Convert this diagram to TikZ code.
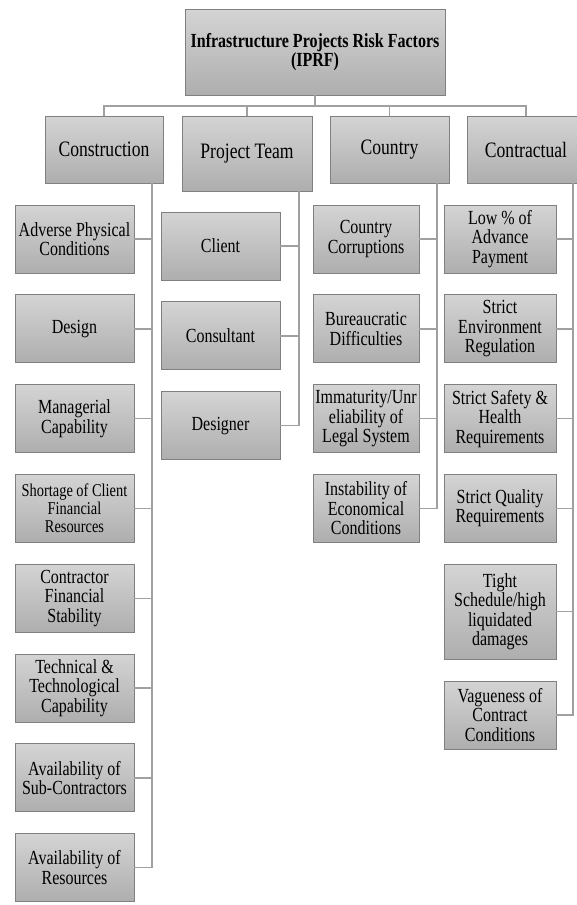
\documentclass[tikz,border=0pt]{standalone}
\usepackage{fontspec}
\setmainfont{Liberation Serif}[FakeStretch=0.8]
\usetikzlibrary{positioning}
\definecolor{boxtop}{RGB}{212,212,212}
\definecolor{boxbot}{RGB}{174,174,174}
\definecolor{boxline}{RGB}{128,128,128}
\definecolor{linkgray}{RGB}{160,160,160}

\begin{document}
\begin{tikzpicture}[x=1pt, y=-1pt, node distance=21pt,
    box/.style={draw=boxline, line width=0.8pt, top color=boxtop, bottom color=boxbot,
                align=center, inner sep=1pt, minimum height=68pt,
                font=\fontsize{20}{19.5}\selectfont},
    head/.style={box, minimum height=67pt, font=\fontsize{22}{22}\selectfont},
    link/.style={draw=linkgray, line width=1.4pt}]
  \useasboundingbox (0,0) rectangle (577,905);

  % top level
  \node[box, minimum width=260pt, minimum height=86pt] (iprf) at (315,52)
    {\textbf{Infrastructure Projects Risk Factors}\\\textbf{(IPRF)}};

  % categories
  \node[head, minimum width=118pt] (cons) at (104,149.5) {Construction};
  \node[head, minimum width=130pt, minimum height=75pt] (team) at (247,153.5) {Project Team};
  \node[head, minimum width=119pt] (ctry) at (389.5,149.5) {Country};
  \node[head, minimum width=118pt] (contr) at (526,149.5) {Contractual};

  % construction factors
  \node[box, minimum width=119pt] (adverse) at (74.5,239) {Adverse Physical\\Conditions};
  \node[box, minimum width=119pt] (design) [below=of adverse] {Design};
  \node[box, minimum width=119pt] (manage) [below=of design] {Managerial\\Capability};
  \node[box, minimum width=119pt, font=\fontsize{18}{18}\selectfont] (short) [below=of manage]
    {Shortage of Client\\Financial\\Resources};
  \node[box, minimum width=119pt] (stab) [below=of short] {Contractor\\Financial\\Stability};
  \node[box, minimum width=119pt] (tech) [below=of stab] {Technical \&\\Technological\\Capability};
  \node[box, minimum width=119pt] (subc) [below=of tech] {Availability of\\Sub-Contractors};
  \node[box, minimum width=119pt] (resrc) [below=of subc] {Availability of\\Resources};

  % project team factors
  \node[box, minimum width=119pt] (client) at (220.5,246) {Client};
  \node[box, minimum width=119pt] (consult) [below=of client] {Consultant};
  \node[box, minimum width=119pt] (designer) [below=of consult] {Designer};

  % country factors
  \node[box, minimum width=106pt] (corrupt) at (366,239) {Country\\Corruptions};
  \node[box, minimum width=106pt] (bureau) [below=of corrupt] {Bureaucratic\\Difficulties};
  \node[box, minimum width=106pt] (legal) [below=of bureau] {Immaturity/Unr\\eliability of\\Legal System};
  \node[box, minimum width=106pt] (econ) [below=of legal] {Instability of\\Economical\\Conditions};

  % contractual factors
  \node[box, minimum width=112pt] (advance) at (500,239) {Low \% of\\Advance\\Payment};
  \node[box, minimum width=112pt] (envir) [below=of advance] {Strict\\Environment\\Regulation};
  \node[box, minimum width=112pt] (safety) [below=of envir] {Strict Safety \&\\Health\\Requirements};
  \node[box, minimum width=112pt] (quality) [below=of safety] {Strict Quality\\Requirements};
  \node[box, minimum width=112pt, minimum height=95pt] (sched) [below=of quality]
    {Tight\\Schedule/high\\liquidated\\damages};
  \node[box, minimum width=112pt] (vague) [below=of sched] {Vagueness of\\Contract\\Conditions};

  % spines
  \coordinate (consx) at (152,0);
  \coordinate (teamx) at (299,0);
  \coordinate (ctryx) at (437,0);
  \coordinate (contrx) at (573,0);

  % root to categories
  \draw[link] (iprf.south) -- ++(0,10.5) -| (cons.north);
  \draw[link] (iprf.south) -- ++(0,10.5) -| (team.north);
  \draw[link] (iprf.south) -- ++(0,10.5) -| (ctry.north);
  \draw[link] (iprf.south) -- ++(0,10.5) -| (contr.north);

  % categories to factors
  \draw[link] (cons.south -| consx) |- (adverse.east);
  \draw[link] (cons.south -| consx) |- (design.east);
  \draw[link] (cons.south -| consx) |- (manage.east);
  \draw[link] (cons.south -| consx) |- (short.east);
  \draw[link] (cons.south -| consx) |- (stab.east);
  \draw[link] (cons.south -| consx) |- (tech.east);
  \draw[link] (cons.south -| consx) |- (subc.east);
  \draw[link] (cons.south -| consx) |- (resrc.east);

  \draw[link] (team.south -| teamx) |- (client.east);
  \draw[link] (team.south -| teamx) |- (consult.east);
  \draw[link] (team.south -| teamx) |- (designer.east);

  \draw[link] (ctry.south -| ctryx) |- (corrupt.east);
  \draw[link] (ctry.south -| ctryx) |- (bureau.east);
  \draw[link] (ctry.south -| ctryx) |- (legal.east);
  \draw[link] (ctry.south -| ctryx) |- (econ.east);

  \draw[link] (contr.south -| contrx) |- (advance.east);
  \draw[link] (contr.south -| contrx) |- (envir.east);
  \draw[link] (contr.south -| contrx) |- (safety.east);
  \draw[link] (contr.south -| contrx) |- (quality.east);
  \draw[link] (contr.south -| contrx) |- (sched.east);
  \draw[link] (contr.south -| contrx) |- (vague.east);
\end{tikzpicture}
\end{document}
